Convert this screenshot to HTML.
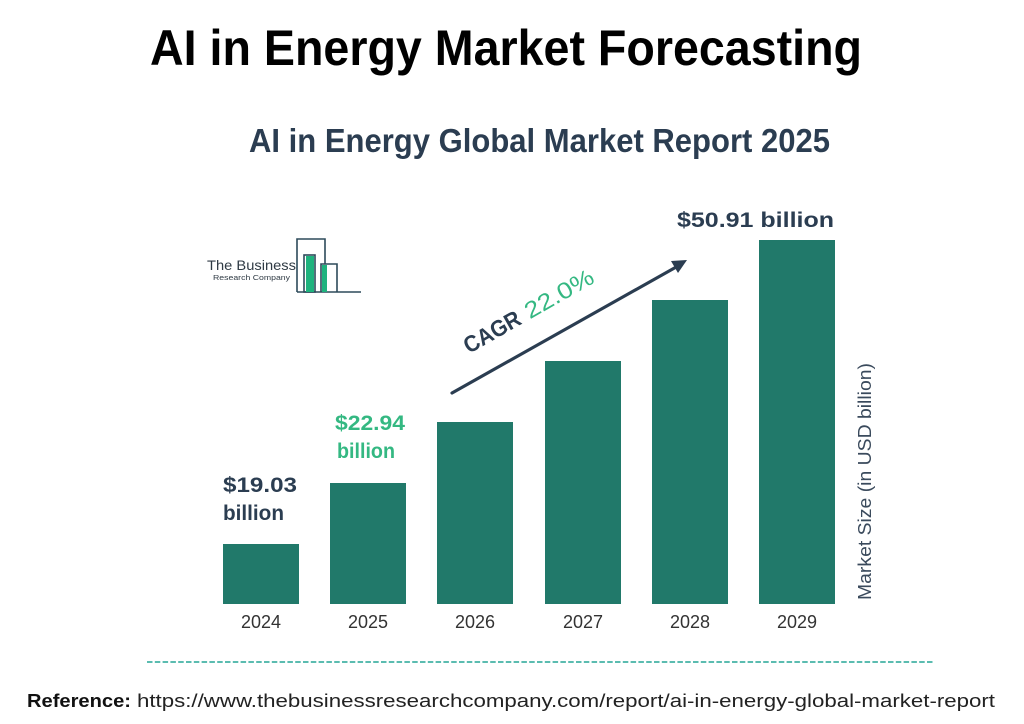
<!DOCTYPE html>
<html>
<head>
<meta charset="utf-8">
<style>
  html, body { margin: 0; padding: 0; background: #ffffff; }
  svg { display: block; }
  text { font-family: "Liberation Sans", "DejaVu Sans", sans-serif; }
</style>
</head>
<body>
<svg width="1024" height="724" viewBox="0 0 1024 724" xmlns="http://www.w3.org/2000/svg">
  <rect x="0" y="0" width="1024" height="724" fill="#ffffff"/>

  <!-- Main title -->
  <text x="150" y="65" font-size="50" font-weight="bold" fill="#000000" textLength="712" lengthAdjust="spacingAndGlyphs">AI in Energy Market Forecasting</text>

  <!-- Subtitle -->
  <text x="249" y="152" font-size="33" font-weight="bold" fill="#2b3d51" textLength="581" lengthAdjust="spacingAndGlyphs">AI in Energy Global Market Report 2025</text>

  <!-- Logo -->
  <text x="207" y="270" font-size="14" fill="#2f3a44" textLength="89" lengthAdjust="spacingAndGlyphs">The Business</text>
  <text x="213" y="280" font-size="7.5" fill="#2f3a44" textLength="77" lengthAdjust="spacingAndGlyphs">Research Company</text>
  <g fill="none" stroke="#2d4a5a" stroke-width="1.6">
    <polyline points="297,292 297,239 325,239 325,264"/>
    <polyline points="321,292 321,264 337,264 337,292"/>
    <line x1="297" y1="292" x2="361" y2="292"/>
    <rect x="304" y="255" width="11" height="37"/>
  </g>
  <rect x="306" y="256" width="8" height="36" fill="#1fb37e"/>
  <rect x="322" y="265" width="5" height="27" fill="#1fb37e"/>

  <!-- Bars -->
  <g fill="#21796a">
    <rect x="223" y="544" width="76" height="60"/>
    <rect x="330" y="483" width="76" height="121"/>
    <rect x="437" y="422" width="76" height="182"/>
    <rect x="545" y="361" width="76" height="243"/>
    <rect x="652" y="300" width="76" height="304"/>
    <rect x="759" y="240" width="76" height="364"/>
  </g>

  <!-- Year labels -->
  <g font-size="18" fill="#333333" text-anchor="middle">
    <text x="261" y="628">2024</text>
    <text x="368" y="628">2025</text>
    <text x="475" y="628">2026</text>
    <text x="583" y="628">2027</text>
    <text x="690" y="628">2028</text>
    <text x="797" y="628">2029</text>
  </g>

  <!-- Value labels -->
  <g font-size="21" font-weight="bold">
    <text x="223" y="492" fill="#2b3d51" textLength="74" lengthAdjust="spacingAndGlyphs">$19.03</text>
    <text x="223" y="520" fill="#2b3d51" textLength="61" lengthAdjust="spacingAndGlyphs">billion</text>
    <text x="335" y="430" fill="#34b882" textLength="70" lengthAdjust="spacingAndGlyphs">$22.94</text>
    <text x="337" y="458" fill="#34b882" textLength="58" lengthAdjust="spacingAndGlyphs">billion</text>
    <text x="677" y="227" fill="#2b3d51" textLength="157" lengthAdjust="spacingAndGlyphs">$50.91 billion</text>
  </g>

  <!-- CAGR arrow -->
  <line x1="452" y1="393" x2="678" y2="266" stroke="#2b3d51" stroke-width="3.2" stroke-linecap="round"/>
  <polygon points="687,260 671,261 678,273" fill="#2b3d51"/>
  <g transform="translate(469,354) rotate(-29.6)">
    <text x="0" y="0" font-size="23" font-weight="bold" fill="#2b3d51" textLength="62" lengthAdjust="spacingAndGlyphs">CAGR</text>
    <text x="70" y="0" font-size="23" fill="#34b882" textLength="76" lengthAdjust="spacingAndGlyphs">22.0%</text>
  </g>

  <!-- Y axis label -->
  <text transform="translate(871,600) rotate(-90)" x="0" y="0" font-size="18" fill="#3a4a5c" textLength="237" lengthAdjust="spacingAndGlyphs">Market Size (in USD billion)</text>

  <!-- Dashed separator -->
  <line x1="147" y1="662" x2="933" y2="662" stroke="#5bbcb0" stroke-width="2" stroke-dasharray="5.5 2.3"/>

  <!-- Reference -->
  <text x="27" y="707" font-size="18" font-weight="bold" fill="#111111" textLength="104" lengthAdjust="spacingAndGlyphs">Reference:</text>
  <text x="137" y="707" font-size="18" fill="#222222" textLength="858" lengthAdjust="spacingAndGlyphs">https://www.thebusinessresearchcompany.com/report/ai-in-energy-global-market-report</text>
</svg>
</body>
</html>
